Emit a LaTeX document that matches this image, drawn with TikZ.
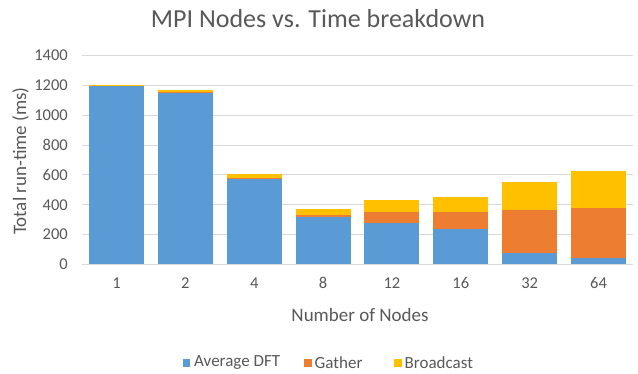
\documentclass[tikz,border=0pt]{standalone}
\usepackage{fontspec}
\setmainfont{Carlito}
\definecolor{dftblue}{HTML}{5B9BD5}
\definecolor{gatherorange}{HTML}{ED7D31}
\definecolor{bcastgold}{HTML}{FFC000}
\definecolor{labelgrey}{HTML}{595959}
\definecolor{gridgrey}{HTML}{D9D9D9}
\tikzset{
  gridline/.style={draw=gridgrey, line width=0.9pt},
  ticklabel/.style={text=labelgrey, font=\fontsize{16.5}{18}\selectfont, inner sep=0pt},
  axistitle/.style={text=labelgrey, font=\fontsize{19}{21}\selectfont, inner sep=0pt},
  legendtext/.style={text=labelgrey, font=\fontsize{17}{19}\selectfont, inner sep=0pt, anchor=west},
  legendkey/.style={minimum size=7.5pt, inner sep=0pt},
}
% value (ms) -> vertical position in picture units
\newcommand{\yval}[1]{264.5-(#1)*0.1493}
\begin{document}
\begin{tikzpicture}[x=1pt,y=-1pt]
\useasboundingbox (0,0) rectangle (638,374);
\fill[white] (0,0) rectangle (638,374);

% title
\node[text=labelgrey, font=\fontsize{26}{30}\selectfont, inner sep=0pt] (title) at (318,19) {MPI Nodes vs. Time breakdown};

% horizontal gridlines and value labels
\foreach \v in {0,200,...,1400} {
  \draw[gridline] (82,{\yval{\v}}) -- (633,{\yval{\v}});
  \node[ticklabel, anchor=east] (ytick\v) at (68,{\yval{\v}}) {\v};
}

% stacked bars: label / average DFT / gather / broadcast
\foreach \lab/\d/\g/\b [count=\i from 0] in
  {1/1200/2/3, 2/1148/4/18, 4/578/3/26, 8/317/16/37,
   12/279/71/85, 16/241/112/102, 32/78/286/187, 64/45/335/245} {
  \pgfmathsetmacro{\cx}{82+68.875*(\i+0.5)}
  \fill[dftblue] ({\cx-27.5},{\yval{0}}) rectangle ({\cx+27.5},{\yval{\d}});
  \fill[gatherorange] ({\cx-27.5},{\yval{\d}}) rectangle ({\cx+27.5},{\yval{\d+\g}});
  \fill[bcastgold] ({\cx-27.5},{\yval{\d+\g}}) rectangle ({\cx+27.5},{\yval{\d+\g+\b}});
  \node[ticklabel] (xtick\i) at (\cx,283) {\lab};
}

% axis titles
\node[axistitle, rotate=90] (ytitle) at (20.5,161) {Total run-time (ms)};
\node[axistitle] (xtitle) at (360,315) {Number of Nodes};

% legend
\node[legendkey, fill=dftblue] (keydft) at (186.5,363) {};
\node[legendtext] (txtdft) at (194,363) {Average DFT};
\node[legendkey, fill=gatherorange] (keygather) at (308,363) {};
\node[legendtext] (txtgather) at (314.5,363) {Gather};
\node[legendkey, fill=bcastgold] (keybcast) at (398,363) {};
\node[legendtext] (txtbcast) at (404.5,363) {Broadcast};
\end{tikzpicture}
\end{document}
